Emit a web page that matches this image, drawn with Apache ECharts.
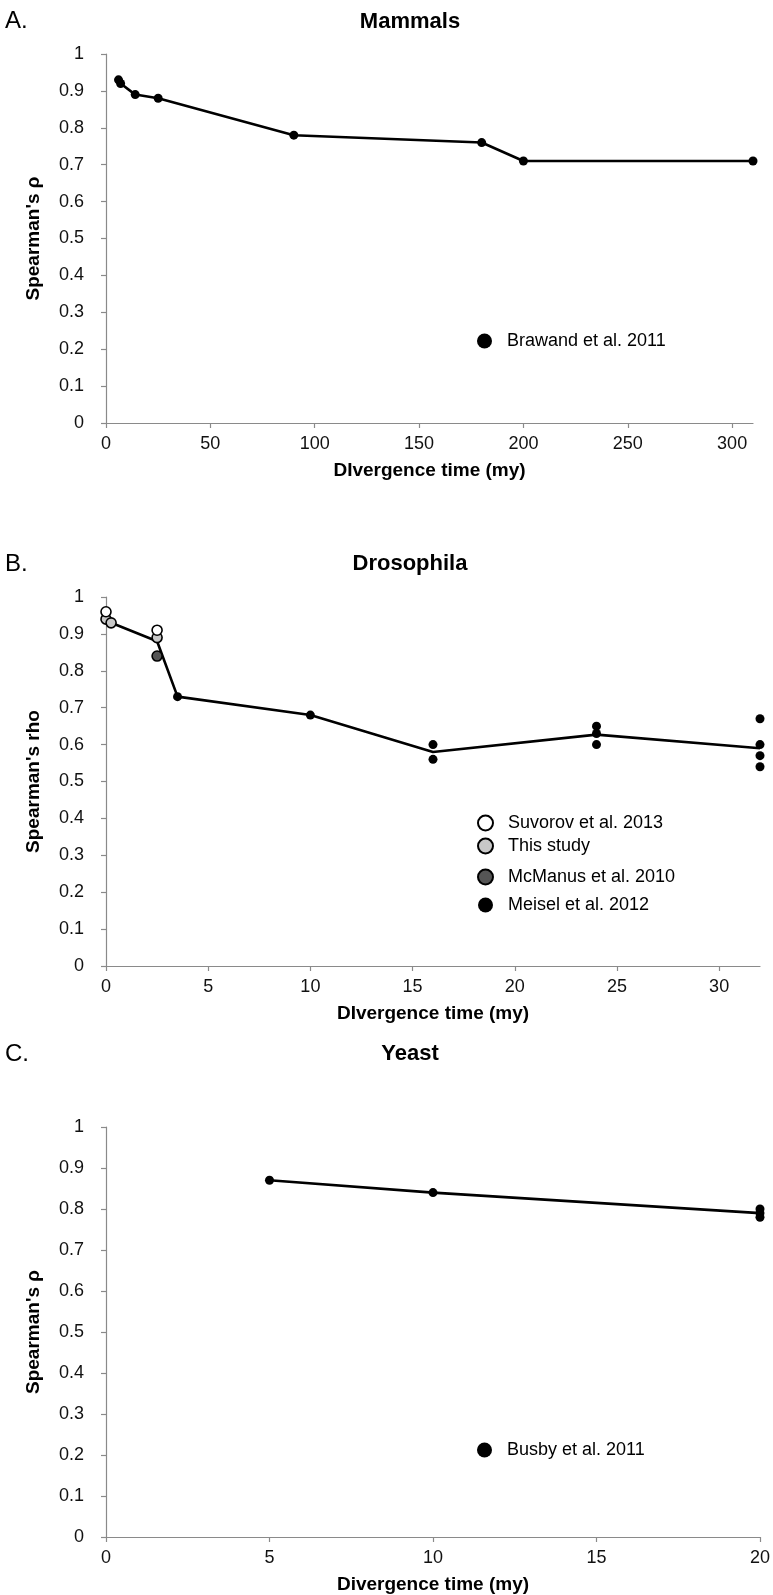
<!DOCTYPE html>
<html>
<head>
<meta charset="utf-8">
<script src="https://cdn.jsdelivr.net/npm/echarts@6/dist/echarts.min.js"></script>
<style>
html,body{margin:0;padding:0;background:#fff;}
#c{width:773px;height:1595px;}
</style>
</head>
<body>
<div id="c"></div>
<script>
// ---- Data ----
// Panel A: Mammals (Brawand et al. 2011)
const mammalX = [6, 7, 14, 25, 90, 180, 200, 310];
const mammalY = [0.93, 0.92, 0.89, 0.88, 0.78, 0.76, 0.71, 0.71];
const mammalTicks = [0, 50, 100, 150, 200, 250, 300];

// Panel B: Drosophila
const suvorovX = [0, 2.5];
const suvorovY = [0.96, 0.91];
const thisStudyX = [0, 0.25, 2.5];
const thisStudyY = [0.94, 0.93, 0.89];
const mcmanusX = [2.5];
const mcmanusY = [0.84];
const meiselX = [3.5, 10, 16, 16, 24, 24, 24, 32, 32, 32, 32];
const meiselY = [0.73, 0.68, 0.60, 0.56, 0.65, 0.63, 0.60, 0.67, 0.60, 0.57, 0.54];
const droLineX = [0.25, 2.5, 3.5, 10, 16, 24, 32];
const droLineY = [0.93, 0.88, 0.73, 0.68, 0.58, 0.627, 0.59];
const droTicks = [0, 5, 10, 15, 20, 25, 30];

// Panel C: Yeast (Busby et al. 2011)
const busbyX = [5, 10, 20, 20, 20];
const busbyY = [0.87, 0.84, 0.80, 0.79, 0.78];
const yeastLineX = [5, 10, 20];
const yeastLineY = [0.87, 0.84, 0.79];
const yeastTicks = [0, 5, 10, 15, 20];

const pairs = (xs, ys) => xs.map((x, i) => [x, ys[i]]);

// ---- Styles ----
const FONT = "'Liberation Sans', Arial, sans-serif";
const NARROW = "'Liberation Sans Narrow', 'Liberation Sans', Arial, sans-serif";
const axisGrey = '#8a8a8a';

function xAxis(gi, max, ticks, name) {
  return {
    type: 'value', gridIndex: gi, min: 0, max: max,
    name: name, nameLocation: 'middle', nameGap: 38,
    nameTextStyle: {fontFamily: NARROW, fontWeight: 'bold', fontSize: 19, color: '#000'},
    axisLine: {show: true, onZero: false, lineStyle: {color: axisGrey, width: 1.2}},
    axisTick: {show: true, length: 5, customValues: ticks, lineStyle: {color: axisGrey, width: 1.2}},
    axisLabel: {customValues: ticks, fontFamily: FONT, fontSize: 18, color: '#111', margin: 12},
    splitLine: {show: false}
  };
}
function yAxis(gi, name) {
  return {
    type: 'value', gridIndex: gi, min: 0, max: 1, interval: 0.1,
    name: name, nameLocation: 'middle', nameGap: 63, nameRotate: 90,
    nameTextStyle: {fontFamily: NARROW, fontWeight: 'bold', fontSize: 19, color: '#000'},
    axisLine: {show: true, lineStyle: {color: axisGrey, width: 1.2}},
    axisTick: {show: true, length: 5, lineStyle: {color: axisGrey, width: 1.2}},
    axisLabel: {fontFamily: FONT, fontSize: 18, color: '#111', margin: 22,
      formatter: v => String(Math.round(v * 10) / 10)},
    splitLine: {show: false}
  };
}
function lineSeries(xi, data) {
  return {type: 'line', xAxisIndex: xi, yAxisIndex: xi, data: data, showSymbol: false,
    lineStyle: {color: '#000', width: 2.6}, z: 2, silent: true};
}
function dots(name, xi, data, fill, size) {
  return {type: 'scatter', name: name, xAxisIndex: xi, yAxisIndex: xi, data: data,
    symbol: 'circle', symbolSize: size || 9,
    itemStyle: {color: fill, borderColor: '#000', borderWidth: fill === '#000' ? 0 : 1.6, opacity: 1},
    z: 3};
}
function legend(names, left, top, gap) {
  return {data: names, orient: 'vertical', left: left, top: top, itemGap: gap,
    icon: 'circle', itemWidth: 15, itemHeight: 15, selectedMode: false,
    textStyle: {fontFamily: FONT, fontSize: 18, color: '#000', padding: [0, 0, 0, 10]}};
}

const titleStyle = {fontFamily: NARROW, fontWeight: 'bold', fontSize: 22, color: '#000'};
const letterStyle = {fontFamily: NARROW, fontWeight: 'normal', fontSize: 24, color: '#000'};

const option = {
  backgroundColor: '#fff',
  animation: false,
  title: [
    {text: 'A.', left: 0, top: 4, textStyle: letterStyle},
    {text: 'Mammals', left: 405, top: 6, textAlign: 'center', textStyle: titleStyle},
    {text: 'B.', left: 0, top: 547, textStyle: letterStyle},
    {text: 'Drosophila', left: 405, top: 548, textAlign: 'center', textStyle: titleStyle},
    {text: 'C.', left: 0, top: 1037, textStyle: letterStyle},
    {text: 'Yeast', left: 405, top: 1038, textAlign: 'center', textStyle: titleStyle}
  ],
  legend: [
    legend(['Brawand et al. 2011'], 472, 327, 10),
    legend(['Suvorov et al. 2013', 'This study'], 472, 809, 5),
    legend(['McManus et al. 2010', 'Meisel et al. 2012'], 472, 863, 10),
    legend(['Busby et al. 2011'], 472, 1436, 10)
  ],
  grid: [
    {left: 106, top: 54, width: 647, height: 369},
    {left: 106, top: 597, width: 654, height: 369},
    {left: 106, top: 1127, width: 654, height: 415}
  ],
  xAxis: [
    xAxis(0, 310, mammalTicks, 'DIvergence time (my)'),
    xAxis(1, 32, droTicks, 'DIvergence time (my)'),
    xAxis(2, 20, yeastTicks, 'Divergence time (my)')
  ],
  yAxis: [
    yAxis(0, "Spearman's \u03c1"),
    yAxis(1, "Spearman's rho"),
    yAxis(2, "Spearman's \u03c1")
  ],
  series: [
    lineSeries(0, pairs(mammalX, mammalY)),
    dots('Brawand et al. 2011', 0, pairs(mammalX, mammalY), '#000'),
    lineSeries(1, pairs(droLineX, droLineY)),
    dots('Meisel et al. 2012', 1, pairs(meiselX, meiselY), '#000'),
    dots('McManus et al. 2010', 1, pairs(mcmanusX, mcmanusY), '#555555', 10),
    dots('This study', 1, pairs(thisStudyX, thisStudyY), '#c8c8c8', 10),
    dots('Suvorov et al. 2013', 1, pairs(suvorovX, suvorovY), '#ffffff', 10),
    lineSeries(2, pairs(yeastLineX, yeastLineY)),
    dots('Busby et al. 2011', 2, pairs(busbyX, busbyY), '#000')
  ]
};

const chart = echarts.init(document.getElementById('c'), null, {renderer: 'canvas'});
chart.setOption(option);
</script>
</body>
</html>
